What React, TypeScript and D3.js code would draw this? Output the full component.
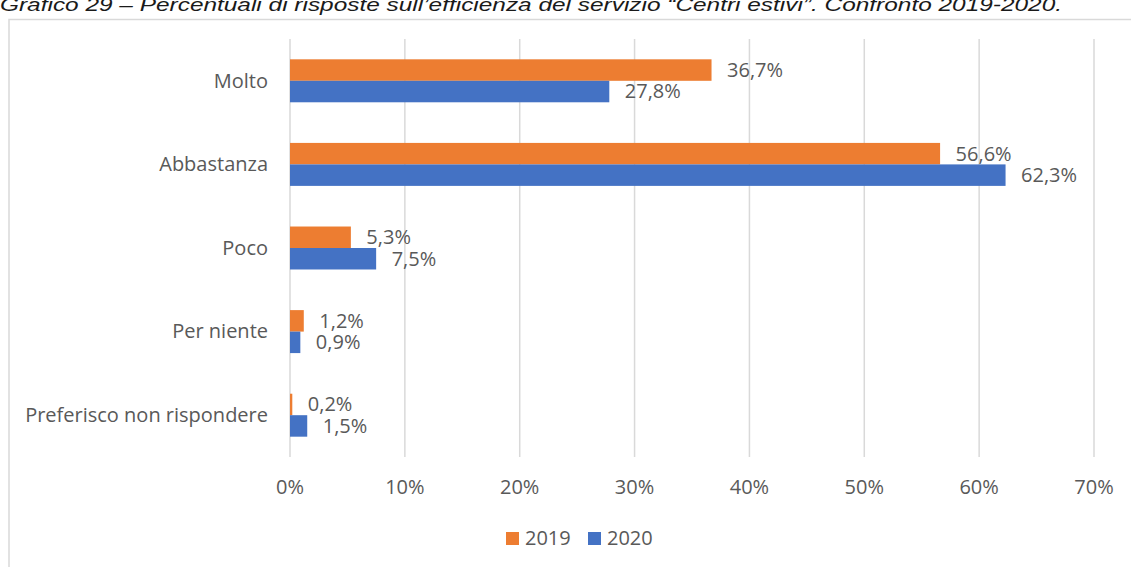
import React from "react";
import * as d3 from "d3";

const categories = ["Molto", "Abbastanza", "Poco", "Per niente", "Preferisco non rispondere"];
const seriesNames = ["2019", "2020"];
const values2019 = [36.7, 56.6, 5.3, 1.2, 0.2];
const values2020 = [27.8, 62.3, 7.5, 0.9, 1.5];
const xTicks = [0, 10, 20, 30, 40, 50, 60, 70];
const colors = ["#ED7D31", "#4472C4"];
const titleText =
  "Grafico 29 – Percentuali di risposte sull’efficienza del servizio “Centri estivi”. Confronto 2019-2020.";

const W = 1131;
const H = 567;
const FONT = "'Open Sans', 'Noto Sans', sans-serif";
const TEXT = "#595959";
const GRID = "#D9D9D9";

export default function App() {
  const x = d3.scaleLinear().domain([0, 70]).range([290, 1094]);
  const y = d3
    .scaleBand<string>()
    .domain(categories)
    .range([39, 457])
    .paddingInner(0.486)
    .paddingOuter(0.243);
  const ys = d3.scaleBand<string>().domain(seriesNames).range([0, y.bandwidth()]);
  const series = [values2019, values2020];
  const fmt = (v: number) => v.toFixed(1).replace(".", ",") + "%";

  return (
    <svg
      width={W}
      height={H}
      style={{ position: "absolute", left: 0, top: 0, background: "#fff" }}
    >
      <rect x={0} y={0} width={W} height={H} fill="#fff" />
      <text
        x={0}
        y={11}
        fontFamily="'Liberation Sans', Arial, sans-serif"
        fontStyle="italic"
        fontSize={19}
        fill="#1a1a1a"
        textLength={1062}
        lengthAdjust="spacingAndGlyphs"
      >
        {titleText}
      </text>
      <rect x={9} y={19.5} width={W + 20} height={H + 20} fill="none" stroke={GRID} strokeWidth={1.5} />

      {xTicks.map((t) => (
        <g key={t}>
          <line x1={x(t)} x2={x(t)} y1={39} y2={457} stroke={GRID} strokeWidth={1.5} />
          <text
            x={x(t)}
            y={489}
            textAnchor="middle"
            dominantBaseline="middle"
            fontFamily={FONT}
            fontSize={20}
            fill={TEXT}
          >
            {t + "%"}
          </text>
        </g>
      ))}

      {categories.map((c) => (
        <text
          key={c}
          x={268}
          y={(y(c) as number) + y.bandwidth() / 2 + 1.5}
          textAnchor="end"
          dominantBaseline="middle"
          fontFamily={FONT}
          fontSize={20}
          fill={TEXT}
        >
          {c}
        </text>
      ))}

      {series.map((vals, si) =>
        vals.map((v, i) => {
          const c = categories[i];
          const by = (y(c) as number) + (ys(seriesNames[si]) as number);
          return (
            <g key={si + "-" + i}>
              <rect
                x={x(0)}
                y={by}
                width={x(v) - x(0)}
                height={ys.bandwidth()}
                fill={colors[si]}
              />
              <text
                x={x(v) + 15.5}
                y={by + ys.bandwidth() / 2 + 1.5}
                dominantBaseline="middle"
                fontFamily={FONT}
                fontSize={20}
                fill={TEXT}
              >
                {fmt(v)}
              </text>
            </g>
          );
        })
      )}

      {seriesNames.map((s, i) => {
        const lx = i === 0 ? 506 : 588;
        return (
          <g key={s}>
            <rect x={lx} y={532} width={13} height={13} fill={colors[i]} />
            <text
              x={lx + 19}
              y={539.5}
              dominantBaseline="middle"
              fontFamily={FONT}
              fontSize={20}
              fill={TEXT}
            >
              {s}
            </text>
          </g>
        );
      })}
    </svg>
  );
}
